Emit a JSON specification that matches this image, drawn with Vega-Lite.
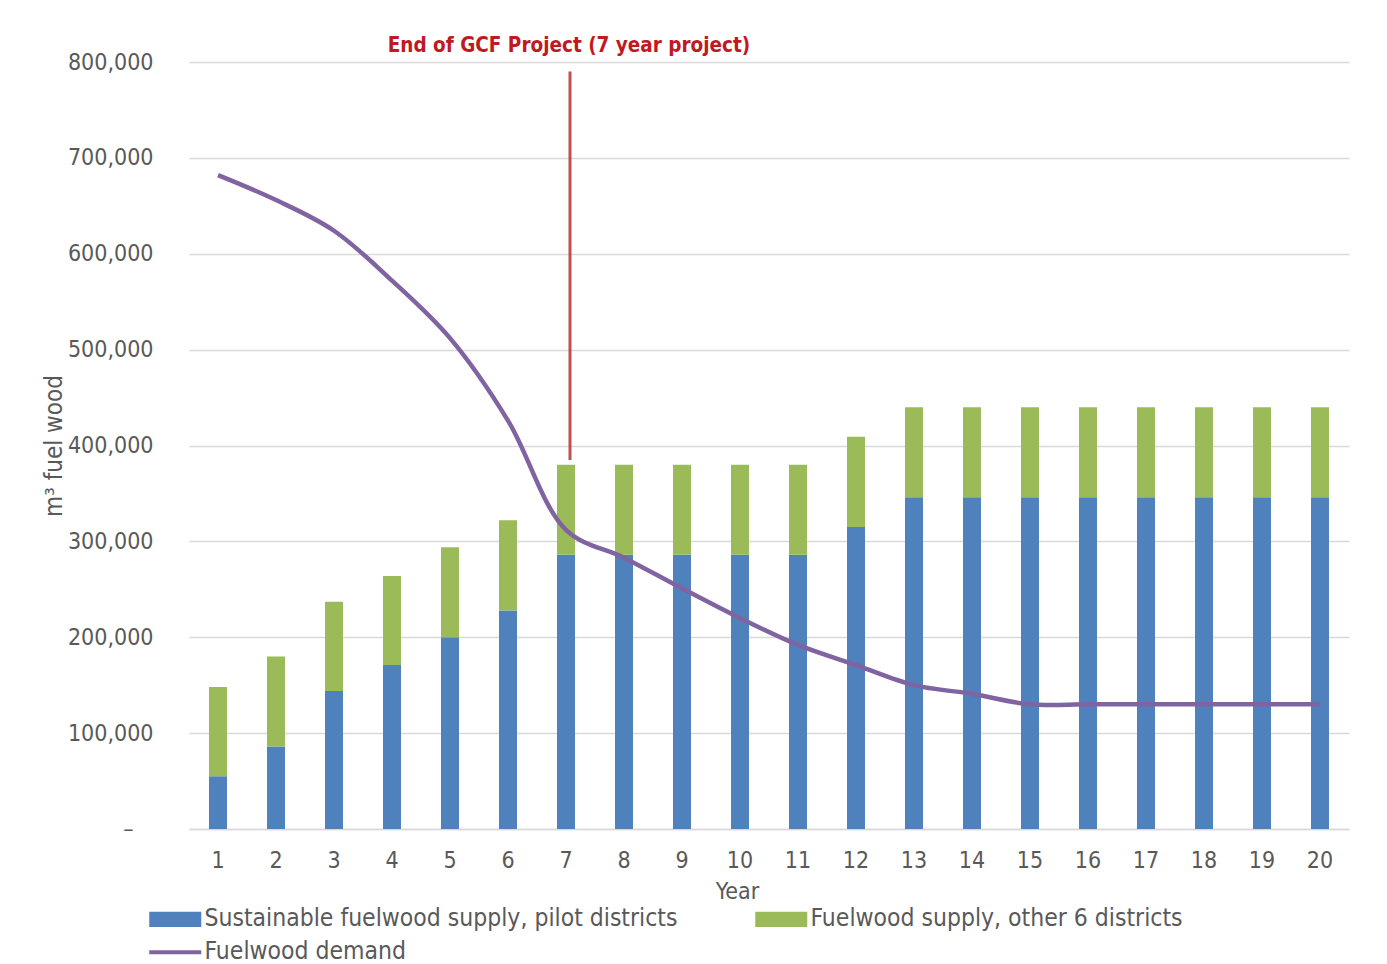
{
  "$schema": "https://vega.github.io/schema/vega-lite/v6.json",
  "width": 1160,
  "height": 767,
  "autosize": {"type": "none"},
  "padding": {"left": 189, "top": 62, "right": 38, "bottom": 135},
  "background": "white",
  "config": {
    "view": {"stroke": null},
    "font": "Liberation Sans Narrow, DejaVu Sans Condensed, Roboto",
    "axis": {"labelFont": "Liberation Sans Narrow, DejaVu Sans Condensed, Roboto", "titleFont": "Liberation Sans Narrow, DejaVu Sans Condensed, Roboto"},
    "legend": {"labelFont": "Liberation Sans Narrow, DejaVu Sans Condensed, Roboto"}
  },
  "datasets": {
    "fuel": [
      {"year": 1, "series": "Sustainable fuelwood supply, pilot districts", "value": 55000},
      {"year": 2, "series": "Sustainable fuelwood supply, pilot districts", "value": 86000},
      {"year": 3, "series": "Sustainable fuelwood supply, pilot districts", "value": 144000},
      {"year": 4, "series": "Sustainable fuelwood supply, pilot districts", "value": 171000},
      {"year": 5, "series": "Sustainable fuelwood supply, pilot districts", "value": 200000},
      {"year": 6, "series": "Sustainable fuelwood supply, pilot districts", "value": 228000},
      {"year": 7, "series": "Sustainable fuelwood supply, pilot districts", "value": 286000},
      {"year": 8, "series": "Sustainable fuelwood supply, pilot districts", "value": 286000},
      {"year": 9, "series": "Sustainable fuelwood supply, pilot districts", "value": 286000},
      {"year": 10, "series": "Sustainable fuelwood supply, pilot districts", "value": 286000},
      {"year": 11, "series": "Sustainable fuelwood supply, pilot districts", "value": 286000},
      {"year": 12, "series": "Sustainable fuelwood supply, pilot districts", "value": 315000},
      {"year": 13, "series": "Sustainable fuelwood supply, pilot districts", "value": 346000},
      {"year": 14, "series": "Sustainable fuelwood supply, pilot districts", "value": 346000},
      {"year": 15, "series": "Sustainable fuelwood supply, pilot districts", "value": 346000},
      {"year": 16, "series": "Sustainable fuelwood supply, pilot districts", "value": 346000},
      {"year": 17, "series": "Sustainable fuelwood supply, pilot districts", "value": 346000},
      {"year": 18, "series": "Sustainable fuelwood supply, pilot districts", "value": 346000},
      {"year": 19, "series": "Sustainable fuelwood supply, pilot districts", "value": 346000},
      {"year": 20, "series": "Sustainable fuelwood supply, pilot districts", "value": 346000},
      {"year": 1, "series": "Fuelwood supply, other 6 districts", "value": 93000},
      {"year": 2, "series": "Fuelwood supply, other 6 districts", "value": 94000},
      {"year": 3, "series": "Fuelwood supply, other 6 districts", "value": 93000},
      {"year": 4, "series": "Fuelwood supply, other 6 districts", "value": 93000},
      {"year": 5, "series": "Fuelwood supply, other 6 districts", "value": 94000},
      {"year": 6, "series": "Fuelwood supply, other 6 districts", "value": 94000},
      {"year": 7, "series": "Fuelwood supply, other 6 districts", "value": 94000},
      {"year": 8, "series": "Fuelwood supply, other 6 districts", "value": 94000},
      {"year": 9, "series": "Fuelwood supply, other 6 districts", "value": 94000},
      {"year": 10, "series": "Fuelwood supply, other 6 districts", "value": 94000},
      {"year": 11, "series": "Fuelwood supply, other 6 districts", "value": 94000},
      {"year": 12, "series": "Fuelwood supply, other 6 districts", "value": 94000},
      {"year": 13, "series": "Fuelwood supply, other 6 districts", "value": 94000},
      {"year": 14, "series": "Fuelwood supply, other 6 districts", "value": 94000},
      {"year": 15, "series": "Fuelwood supply, other 6 districts", "value": 94000},
      {"year": 16, "series": "Fuelwood supply, other 6 districts", "value": 94000},
      {"year": 17, "series": "Fuelwood supply, other 6 districts", "value": 94000},
      {"year": 18, "series": "Fuelwood supply, other 6 districts", "value": 94000},
      {"year": 19, "series": "Fuelwood supply, other 6 districts", "value": 94000},
      {"year": 20, "series": "Fuelwood supply, other 6 districts", "value": 94000},
      {"year": 1, "series": "Fuelwood demand", "value": 682000},
      {"year": 2, "series": "Fuelwood demand", "value": 656000},
      {"year": 3, "series": "Fuelwood demand", "value": 624000},
      {"year": 4, "series": "Fuelwood demand", "value": 572000},
      {"year": 5, "series": "Fuelwood demand", "value": 512000},
      {"year": 6, "series": "Fuelwood demand", "value": 426000},
      {"year": 7, "series": "Fuelwood demand", "value": 312000},
      {"year": 8, "series": "Fuelwood demand", "value": 283000},
      {"year": 9, "series": "Fuelwood demand", "value": 251000},
      {"year": 10, "series": "Fuelwood demand", "value": 220000},
      {"year": 11, "series": "Fuelwood demand", "value": 192000},
      {"year": 12, "series": "Fuelwood demand", "value": 171000},
      {"year": 13, "series": "Fuelwood demand", "value": 150000},
      {"year": 14, "series": "Fuelwood demand", "value": 141000},
      {"year": 15, "series": "Fuelwood demand", "value": 130000},
      {"year": 16, "series": "Fuelwood demand", "value": 130000},
      {"year": 17, "series": "Fuelwood demand", "value": 130000},
      {"year": 18, "series": "Fuelwood demand", "value": 130000},
      {"year": 19, "series": "Fuelwood demand", "value": 130000},
      {"year": 20, "series": "Fuelwood demand", "value": 130000}
    ],
    "note": [
      {"year": 7, "top": 790000, "bottom": 385000, "label": "End of GCF Project (7 year project)"}
    ]
  },
  "layer": [
    {
      "data": {"name": "fuel"},
      "transform": [{"filter": "datum.series !== 'Fuelwood demand'"}],
      "mark": {"type": "bar"},
      "encoding": {
        "x": {
          "field": "year", "type": "ordinal",
          "scale": {"paddingInner": 0.69, "paddingOuter": 0.345},
          "axis": {
            "labelAngle": 0, "labelFontSize": 23, "labelColor": "#595959", "labelPadding": 20,
            "ticks": false, "domain": true, "domainColor": "#d9d9d9", "domainWidth": 1.5,
            "title": "Year", "titleFontSize": 23, "titleFontWeight": "normal", "titleColor": "#595959", "titlePadding": 8, "titleX": 548
          }
        },
        "y": {
          "field": "value", "type": "quantitative", "stack": "zero",
          "scale": {"domain": [0, 800000], "nice": false, "zero": true},
          "axis": {
            "values": [0, 100000, 200000, 300000, 400000, 500000, 600000, 700000, 800000],
            "labelExpr": "datum.value === 0 ? '–' : format(datum.value, ',')",
            "labelFontSize": 23, "labelColor": "#595959",
            "labelPadding": {"condition": {"test": "datum.value === 0", "value": 56}, "value": 36},
            "ticks": false, "domain": false,
            "grid": true, "gridColor": "#d9d9d9", "gridWidth": 1.5,
            "title": "m³ fuel wood", "titleFontSize": 24, "titleFontWeight": "normal", "titleColor": "#595959", "titleX": -123
          }
        },
        "color": {
          "field": "series", "type": "nominal",
          "scale": {
            "domain": ["Sustainable fuelwood supply, pilot districts", "Fuelwood supply, other 6 districts", "Fuelwood demand"],
            "range": ["#4F81BD", "#9BBB59", "#8064A2"]
          },
          "legend": {
            "title": null, "orient": "none", "legendX": -41, "legendY": 845,
            "columns": 2, "direction": "horizontal", "gridAlign": "each",
            "columnPadding": 76, "rowPadding": 8,
            "labelFontSize": 24.5, "labelColor": "#595959", "labelLimit": 0, "labelOffset": 17,
            "symbolSize": 2704, "symbolOffset": 15,
            "encode": {
              "symbols": {
                "update": {
                  "shape": {"signal": "datum.value === 'Fuelwood demand' ? 'stroke' : 'M-1,-0.29H1V0.29H-1Z'"},
                  "fill": {"signal": "datum.value === 'Fuelwood demand' ? 'transparent' : scale('color', datum.value)"},
                  "stroke": {"signal": "scale('color', datum.value)"},
                  "strokeWidth": {"signal": "datum.value === 'Fuelwood demand' ? 4 : 0"},
                  "opacity": {"value": 1}
                }
              }
            }
          }
        },
        "order": {"field": "series", "sort": "descending"}
      }
    },
    {
      "data": {"name": "fuel"},
      "transform": [{"filter": "datum.series === 'Fuelwood demand'"}],
      "mark": {"type": "line", "interpolate": "catmull-rom", "strokeWidth": 4.5},
      "encoding": {
        "x": {"field": "year", "type": "ordinal"},
        "y": {"field": "value", "type": "quantitative"},
        "color": {"field": "series", "type": "nominal"}
      }
    },
    {
      "data": {"name": "note"},
      "mark": {"type": "rule", "color": "#C0504D", "strokeWidth": 3, "xOffset": 4},
      "encoding": {
        "x": {"field": "year", "type": "ordinal"},
        "y": {"field": "top", "type": "quantitative"},
        "y2": {"field": "bottom"}
      }
    },
    {
      "data": {"name": "note"},
      "mark": {"type": "text", "color": "#C0191F", "fontSize": 20.5, "fontWeight": "bold", "baseline": "middle", "dy": -16, "dx": 3, "clip": false},
      "encoding": {
        "x": {"field": "year", "type": "ordinal"},
        "y": {"datum": 800000},
        "text": {"field": "label"}
      }
    }
  ]
}
